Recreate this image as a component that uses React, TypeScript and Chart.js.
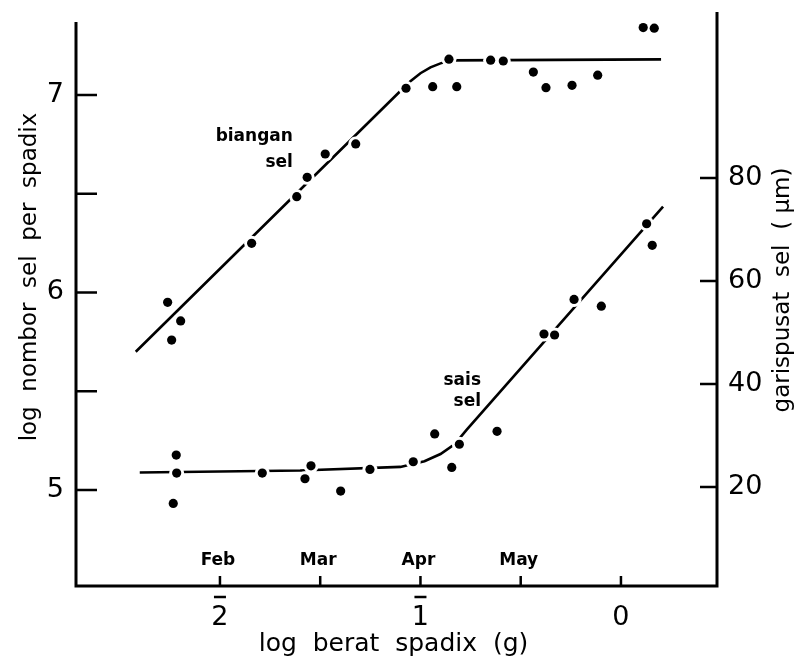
import React, { useEffect, useRef } from "react";
import { Chart, registerables } from "chart.js";

Chart.register(...registerables);

// ---- data (x = log berat spadix (g)) ----
// biangan sel : log nombor sel per spadix (left axis)
const cellNumberX = [-2.261, -2.196, -2.241, -1.842, -1.617, -1.565, -1.475, -1.323, -1.072, -0.939, -0.819, -0.858, -0.65, -0.587, -0.437, -0.374, -0.244, -0.116, 0.111, 0.166];
const cellNumberY = [5.95, 5.856, 5.759, 6.249, 6.485, 6.583, 6.701, 6.752, 7.034, 7.042, 7.042, 7.181, 7.176, 7.172, 7.116, 7.037, 7.049, 7.1, 7.341, 7.338];
// fitted curve for biangan sel
const cellNumberFitX = [-2.42, -1.1, -1.05, -1.0, -0.95, -0.9, -0.85, 0.2];
const cellNumberFitY = [5.7, 7.02, 7.07, 7.11, 7.14, 7.16, 7.175, 7.18];

// sais sel : garispusat sel (um) (right axis)
const cellSizeX = [-2.218, -2.216, -2.233, -1.789, -1.546, -1.576, -1.398, -1.252, -1.036, -0.929, -0.806, -0.844, -0.618, -0.384, -0.331, -0.234, -0.098, 0.128, 0.156];
const cellSizeY = [26.2, 22.7, 16.8, 22.7, 24.1, 21.6, 19.2, 23.4, 24.9, 30.3, 28.3, 23.8, 30.8, 49.7, 49.5, 56.4, 55.1, 71.1, 66.9];
// fitted curve for sais sel
const cellSizeFitX = [-2.4, -1.6, -1.1, -0.98, -0.9, -0.83, -0.77, 0.21];
const cellSizeFitY = [22.8, 23.2, 23.9, 25.0, 26.4, 28.3, 31.1, 74.4];

// ---- axes ----
const xTickValues = [-2, -1, 0];
const xTickLabels = ["2", "1", "0"];
const xTickBarred = [true, true, false]; // bar notation: 2̄ = -2, 1̄ = -1
const xMarkValues = [-2, -1.5, -1, -0.5, 0];
const monthValues = [-2, -1.5, -1, -0.5];
const monthLabels = ["Feb", "Mar", "Apr", "May"];
const leftTickValues = [5, 5.5, 6, 6.5, 7];
const leftTickLabels = ["5", "", "6", "", "7"];
const rightTickValues = [20, 40, 60, 80];
const rightTickLabels = ["20", "40", "60", "80"];

const X_MIN = -2.718;
const X_MAX = 0.479;
const L_MIN = 4.514;
const L_MAX = 7.42;
const L_AXIS_TOP = 7.37;
const R_MIN = 0.78;
const R_MAX = 112.2;

const xTitle = "log  berat  spadix  (g)";
const leftTitle = "log  nombor  sel  per  spadix";
const rightTitle = "garispusat  sel  ( \u00b5m)";
const upperLabel = ["biangan", "sel"];
const lowerLabel = ["sais", "sel"];

const INK = "#000";
const FONT = "'DejaVu Sans', sans-serif";

const toPts = (xs: number[], ys: number[]) => xs.map((x, i) => ({ x, y: ys[i] }));

const decor = {
  id: "decor",
  afterDraw(chart: any) {
    const { ctx, chartArea: a, scales } = chart;
    const sx = scales.x;
    const sl = scales.y;
    const sr = scales.y2;
    ctx.save();
    ctx.strokeStyle = INK;
    ctx.fillStyle = INK;
    ctx.lineWidth = 3;
    ctx.lineCap = "butt";
    // axis frame (no top)
    ctx.beginPath();
    ctx.moveTo(a.left, sl.getPixelForValue(L_AXIS_TOP));
    ctx.lineTo(a.left, a.bottom);
    ctx.lineTo(a.right, a.bottom);
    ctx.lineTo(a.right, a.top);
    ctx.stroke();
    // tick marks (inward)
    ctx.lineWidth = 2.5;
    ctx.beginPath();
    leftTickValues.forEach((v) => {
      const y = sl.getPixelForValue(v);
      ctx.moveTo(a.left, y);
      ctx.lineTo(a.left + 21, y);
    });
    rightTickValues.forEach((v) => {
      const y = sr.getPixelForValue(v);
      ctx.moveTo(a.right, y);
      ctx.lineTo(a.right - 17, y);
    });
    xMarkValues.forEach((v) => {
      const x = sx.getPixelForValue(v);
      ctx.moveTo(x, a.bottom);
      ctx.lineTo(x, a.bottom - 10);
    });
    ctx.stroke();
    // bars over negative characteristic digits
    ctx.lineWidth = 2.5;
    ctx.beginPath();
    xTickValues.forEach((v, i) => {
      if (!xTickBarred[i]) return;
      const x = sx.getPixelForValue(v);
      ctx.moveTo(x - 6, a.bottom + 11);
      ctx.lineTo(x + 6, a.bottom + 11);
    });
    ctx.stroke();
    // month labels
    ctx.font = `bold 17px ${FONT}`;
    ctx.textAlign = "center";
    ctx.textBaseline = "middle";
    monthValues.forEach((v, i) => {
      ctx.fillText(monthLabels[i], sx.getPixelForValue(v) - 2, a.bottom - 25);
    });
    // curve labels
    ctx.textAlign = "right";
    const ux = sx.getPixelForValue(-1.636);
    ctx.fillText(upperLabel[0], ux, sl.getPixelForValue(6.787));
    ctx.fillText(upperLabel[1], ux, sl.getPixelForValue(6.656));
    const lx = sx.getPixelForValue(-0.698);
    ctx.fillText(lowerLabel[0], lx, sr.getPixelForValue(40.6));
    ctx.fillText(lowerLabel[1], lx, sr.getPixelForValue(36.5));
    // axis titles
    ctx.font = `25px ${FONT}`;
    ctx.textAlign = "center";
    ctx.fillText(xTitle, (a.left + a.right) / 2 - 3, 644);
    ctx.font = `23px ${FONT}`;
    ctx.save();
    ctx.translate(30, 277);
    ctx.rotate(-Math.PI / 2);
    ctx.fillText(leftTitle, 0, 0);
    ctx.restore();
    ctx.save();
    ctx.translate(783, 290);
    ctx.rotate(-Math.PI / 2);
    ctx.fillText(rightTitle, 0, 0);
    ctx.restore();
    ctx.restore();
  },
};

const noPadV = (s: any) => {
  s.paddingTop = 0;
  s.paddingBottom = 0;
};

export default function App() {
  const ref = useRef<HTMLCanvasElement | null>(null);
  useEffect(() => {
    document.body.style.margin = "0";
    const canvas = ref.current!;
    const upperPts = toPts(cellNumberX, cellNumberY);
    const lowerPts = toPts(cellSizeX, cellSizeY);
    const chart = new Chart(canvas, {
      type: "scatter",
      data: {
        datasets: [
          { data: toPts(cellNumberFitX, cellNumberFitY), yAxisID: "y", showLine: true, borderColor: INK, borderWidth: 2.6, pointRadius: 0, tension: 0, order: 3 },
          { data: toPts(cellSizeFitX, cellSizeFitY), yAxisID: "y2", showLine: true, borderColor: INK, borderWidth: 2.6, pointRadius: 0, tension: 0, order: 3 },
          { data: upperPts, yAxisID: "y", pointRadius: 7.5, pointBackgroundColor: "#fff", pointBorderWidth: 0, order: 2 },
          { data: lowerPts, yAxisID: "y2", pointRadius: 7.5, pointBackgroundColor: "#fff", pointBorderWidth: 0, order: 2 },
          { data: upperPts, yAxisID: "y", pointRadius: 4.6, pointBackgroundColor: INK, pointBorderWidth: 0, order: 1 },
          { data: lowerPts, yAxisID: "y2", pointRadius: 4.6, pointBackgroundColor: INK, pointBorderWidth: 0, order: 1 },
        ],
      },
      options: {
        responsive: false,
        animation: false,
        events: [],
        layout: { padding: { top: 12, left: 0, right: 0, bottom: 0 } },
        plugins: { legend: { display: false }, tooltip: { enabled: false }, title: { display: false } },
        scales: {
          x: {
            type: "linear",
            position: "bottom",
            min: X_MIN,
            max: X_MAX,
            grid: { display: false },
            border: { display: false },
            afterBuildTicks: (s: any) => {
              s.ticks = xTickValues.map((v) => ({ value: v }));
            },
            afterFit: (s: any) => {
              s.height = 77;
              s.paddingLeft = 0;
              s.paddingRight = 0;
            },
            ticks: {
              color: INK,
              font: { size: 27, family: FONT },
              padding: 8,
              maxRotation: 0,
              autoSkip: false,
              callback: (v: any) => {
                const i = xTickValues.indexOf(Number(v));
                return i >= 0 ? xTickLabels[i] : "";
              },
            },
          },
          y: {
            type: "linear",
            position: "left",
            min: L_MIN,
            max: L_MAX,
            grid: { display: false },
            border: { display: false },
            afterBuildTicks: (s: any) => {
              s.ticks = leftTickValues.map((v) => ({ value: v }));
            },
            afterFit: (s: any) => {
              s.width = 76;
              noPadV(s);
            },
            ticks: {
              color: INK,
              font: { size: 27, family: FONT },
              padding: 4,
              autoSkip: false,
              callback: (v: any) => {
                const i = leftTickValues.indexOf(Number(v));
                return i >= 0 ? leftTickLabels[i] : "";
              },
            },
          },
          y2: {
            type: "linear",
            position: "right",
            min: R_MIN,
            max: R_MAX,
            grid: { display: false },
            border: { display: false },
            afterBuildTicks: (s: any) => {
              s.ticks = rightTickValues.map((v) => ({ value: v }));
            },
            afterFit: (s: any) => {
              s.width = 86;
              noPadV(s);
            },
            ticks: {
              color: INK,
              font: { size: 27, family: FONT },
              padding: 3,
              autoSkip: false,
              callback: (v: any) => {
                const i = rightTickValues.indexOf(Number(v));
                return i >= 0 ? rightTickLabels[i] : "";
              },
            },
          },
        },
      },
      plugins: [decor],
    });
    return () => chart.destroy();
  }, []);
  return (
    <div style={{ width: 803, height: 663, background: "#fff" }}>
      <canvas ref={ref} width={803} height={663} />
    </div>
  );
}
